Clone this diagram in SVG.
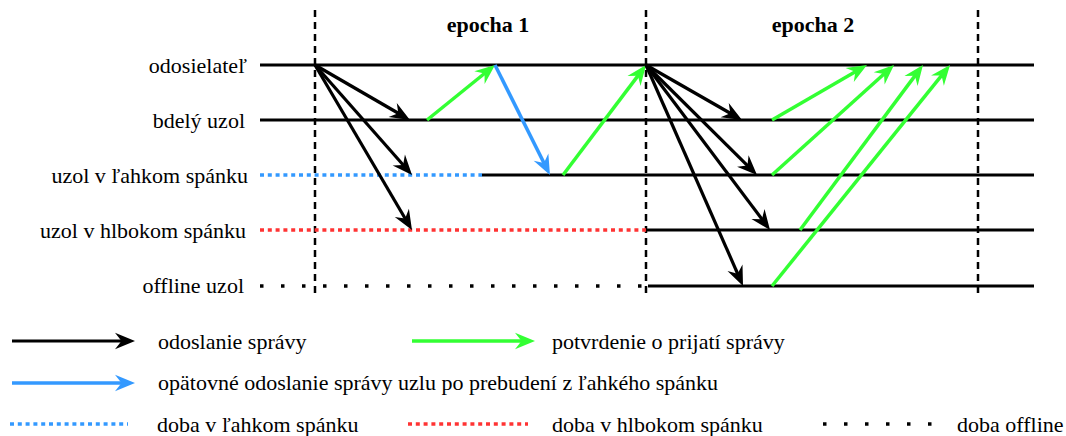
<svg xmlns="http://www.w3.org/2000/svg" width="1066" height="436" viewBox="0 0 1066 436">
<style>
text{font-family:"Liberation Serif","Times New Roman",serif;font-size:22px;fill:#000}
.lbl{text-anchor:end}
.ep{font-weight:bold;text-anchor:middle}
.tl{stroke:#000;stroke-width:3;fill:none}
.vd{stroke:#000;stroke-width:2.5;stroke-dasharray:7 5;fill:none}
.bd{stroke:#3399ff;stroke-width:3.5;stroke-dasharray:4 3.8;fill:none}
.rd{stroke:#ff3333;stroke-width:3.5;stroke-dasharray:4 3.8;fill:none}
.kd{stroke:#000;stroke-width:3.5;stroke-dasharray:3.5 17.5;fill:none}
.ab{stroke:#000;stroke-width:3.2;fill:none;marker-end:url(#hk)}
.ag{stroke:#33ff33;stroke-width:3.5;fill:none;marker-end:url(#hg)}
.al{stroke:#3399ff;stroke-width:3.5;fill:none;marker-end:url(#hb)}
</style>
<defs>
<marker id="hk" markerUnits="userSpaceOnUse" orient="auto" refX="0" refY="0" markerWidth="40" markerHeight="40" overflow="visible"><path d="M12,0 L-8,-8.2 L-1.5,0 L-8,8.2 Z" fill="#000"/></marker>
<marker id="hg" markerUnits="userSpaceOnUse" orient="auto" refX="0" refY="0" markerWidth="40" markerHeight="40" overflow="visible"><path d="M12,0 L-8,-8.2 L-1.5,0 L-8,8.2 Z" fill="#33ff33"/></marker>
<marker id="hb" markerUnits="userSpaceOnUse" orient="auto" refX="0" refY="0" markerWidth="40" markerHeight="40" overflow="visible"><path d="M12,0 L-8,-8.2 L-1.5,0 L-8,8.2 Z" fill="#3399ff"/></marker>
</defs>

<g id="epochs">
<line class="vd" x1="315" y1="10" x2="315" y2="296"/>
<line class="vd" x1="646" y1="10" x2="646" y2="296"/>
<line class="vd" x1="978" y1="10" x2="978" y2="296"/>
<text class="ep" x="488" y="32">epocha 1</text>
<text class="ep" x="813" y="32">epocha 2</text>
</g>

<g id="sender">
<text class="lbl" x="247" y="73">odosielateľ</text>
<line class="tl" x1="260" y1="65" x2="1034" y2="65"/>
</g>
<g id="awake">
<text class="lbl" x="245" y="128">bdelý uzol</text>
<line class="tl" x1="260" y1="120" x2="1034" y2="120"/>
</g>
<g id="light">
<text class="lbl" x="248" y="183">uzol v ľahkom spánku</text>
<line class="bd" x1="260" y1="175" x2="482" y2="175"/>
<line class="tl" x1="482" y1="175" x2="1034" y2="175"/>
</g>
<g id="deep">
<text class="lbl" x="246" y="238">uzol v hlbokom spánku</text>
<line class="rd" x1="260" y1="230" x2="646" y2="230"/>
<line class="tl" x1="646" y1="230" x2="1034" y2="230"/>
</g>
<g id="offline">
<text class="lbl" x="244" y="293">offline uzol</text>
<line class="kd" x1="260" y1="286" x2="646" y2="286"/>
<line class="tl" x1="648" y1="286" x2="1034" y2="286"/>
</g>

<g id="connectors">
<line class="ab" x1="315" y1="65" x2="399.6" y2="114"/>
<line class="ab" x1="315" y1="65" x2="404.1" y2="166"/>
<line class="ab" x1="315" y1="65" x2="405.9" y2="219.7"/>
<line class="ag" x1="427" y1="120" x2="485.7" y2="72.5"/>
<line class="al" x1="495" y1="65" x2="544.6" y2="164.3"/>
<line class="ag" x1="563" y1="175" x2="638.8" y2="74.6"/>
<line class="ab" x1="646" y1="65" x2="731.6" y2="114"/>
<line class="ab" x1="646" y1="65" x2="748.5" y2="166.6"/>
<line class="ab" x1="646" y1="65" x2="762.8" y2="220.4"/>
<line class="ab" x1="646" y1="65" x2="738.2" y2="275"/>
<line class="ag" x1="772" y1="120" x2="856.6" y2="71"/>
<line class="ag" x1="772" y1="175" x2="885.1" y2="73"/>
<line class="ag" x1="800" y1="230" x2="915.8" y2="74.6"/>
<line class="ag" x1="772" y1="286" x2="942.5" y2="74.3"/>
</g>

<g id="legend">
<line class="ab" x1="12" y1="341" x2="123" y2="341"/>
<text x="158" y="349">odoslanie správy</text>
<line class="ag" x1="412" y1="341" x2="523" y2="341"/>
<text x="552" y="349">potvrdenie o prijatí správy</text>
<line class="al" x1="12" y1="383" x2="123" y2="383"/>
<text x="158" y="390">opätovné odoslanie správy uzlu po prebudení z ľahkého spánku</text>
<line class="bd" x1="10" y1="424" x2="128" y2="424"/>
<text x="157" y="432">doba v ľahkom spánku</text>
<line class="rd" x1="408" y1="424" x2="528" y2="424"/>
<text x="552" y="432">doba v hlbokom spánku</text>
<line class="kd" x1="823" y1="424" x2="935" y2="424"/>
<text x="957" y="432">doba offline</text>
</g>
</svg>
